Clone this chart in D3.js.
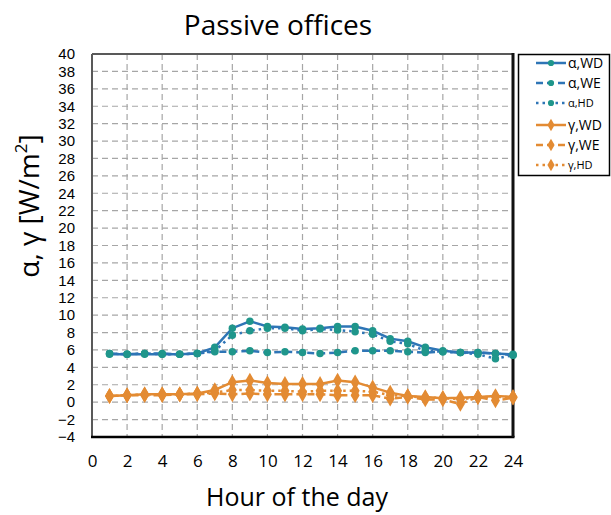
<!DOCTYPE html>
<html>
<head>
<meta charset="utf-8">
<script src="https://cdn.jsdelivr.net/npm/d3@7"></script>
<style>
  html, body { margin: 0; padding: 0; background: #fff; }
  svg { display: block; font-family: "Open Sans", "DejaVu Sans", sans-serif; }
</style>
</head>
<body>
<svg id="chart" width="611" height="515"></svg>
<script>
// Hourly gains in passive offices, hours 1..24
const hours = d3.range(1, 25);

const alphaWD = [5.5, 5.5, 5.5, 5.5, 5.5, 5.6, 6.3, 8.5, 9.3, 8.7, 8.6, 8.4, 8.5, 8.7, 8.7, 8.2, 7.3, 7.0, 6.3, 5.9, 5.7, 5.7, 5.6, 5.5];
const alphaWE = [5.6, 5.5, 5.6, 5.6, 5.5, 5.6, 5.8, 5.8, 5.9, 5.7, 5.8, 5.7, 5.6, 5.7, 5.9, 5.9, 5.9, 5.8, 5.7, 5.8, 5.7, 5.7, 5.6, 5.4];
const alphaHD = [5.6, 5.5, 5.6, 5.5, 5.5, 5.6, 5.9, 7.7, 8.2, 8.5, 8.5, 8.2, 8.4, 8.3, 8.1, 7.8, 7.0, 6.7, 5.9, 5.8, 5.7, 5.5, 5.0, 5.4];
const gammaWD = [0.7, 0.8, 0.9, 0.9, 0.9, 1.0, 1.4, 2.3, 2.5, 2.2, 2.1, 2.1, 2.1, 2.5, 2.3, 1.7, 1.1, 0.7, 0.6, 0.45, 0.5, 0.6, 0.7, 0.6];
const gammaWE = [0.7, 0.8, 0.8, 0.8, 0.9, 0.9, 1.0, 0.9, 1.0, 0.9, 0.9, 0.9, 0.9, 0.8, 0.8, 0.8, 0.4, 0.6, 0.3, 0.3, -0.2, 0.6, 0.2, 0.5];
const gammaHD = [0.7, 0.8, 0.9, 0.9, 0.9, 1.0, 1.1, 1.4, 1.4, 1.3, 1.3, 1.2, 1.3, 1.3, 1.3, 1.2, 0.8, 0.7, 0.5, 0.5, 0.3, 0.6, 0.6, 0.6];

const xTicks = d3.range(0, 25, 2);
const yTicks = d3.range(-4, 41, 2);

const BLUE = "#2e75b6", TEAL = "#1f968b", ORANGE = "#e38b33";

const series = [
  { name: "α,WD", values: alphaWD, line: BLUE,   marker: TEAL,   shape: "circle",  dash: null,    small: false },
  { name: "α,WE", values: alphaWE, line: BLUE,   marker: TEAL,   shape: "circle",  dash: "7,4",   small: false },
  { name: "α,HD", values: alphaHD, line: BLUE,   marker: TEAL,   shape: "circle",  dash: "2.5,4", small: true  },
  { name: "γ,WD", values: gammaWD, line: ORANGE, marker: ORANGE, shape: "diamond", dash: null,    small: false },
  { name: "γ,WE", values: gammaWE, line: ORANGE, marker: ORANGE, shape: "diamond", dash: "7,4",   small: false },
  { name: "γ,HD", values: gammaHD, line: ORANGE, marker: ORANGE, shape: "diamond", dash: "2.5,4", small: true  }
];

const svg = d3.select("#chart");
const plot = { left: 92, right: 513, top: 54, bottom: 437 };

const x = d3.scaleLinear().domain([0, 24]).range([plot.left, plot.right]);
const y = d3.scaleLinear().domain([-4, 40]).range([plot.bottom, plot.top]);

// Title
svg.append("text")
  .attr("x", 278).attr("y", 35)
  .attr("text-anchor", "middle")
  .attr("font-size", 28)
  .attr("fill", "#000")
  .text("Passive offices");

// Gridlines
const grid = svg.append("g");
grid.selectAll("line.v").data(xTicks.filter(d => d > 0 && d < 24)).join("line")
  .attr("x1", d => x(d)).attr("x2", d => x(d))
  .attr("y1", plot.top).attr("y2", plot.bottom)
  .attr("stroke", "#a6a6a6").attr("stroke-width", 1.2).attr("stroke-dasharray", "6,4");
grid.selectAll("line.h").data(yTicks.filter(d => d > -4 && d < 40)).join("line")
  .attr("x1", plot.left).attr("x2", plot.right)
  .attr("y1", d => y(d)).attr("y2", d => y(d))
  .attr("stroke", "#a6a6a6").attr("stroke-width", 1.2).attr("stroke-dasharray", "6,4");

// Frame
svg.append("line").attr("x1", plot.left).attr("x2", plot.right).attr("y1", plot.top).attr("y2", plot.top)
  .attr("stroke", "#595959").attr("stroke-width", 2);
svg.append("line").attr("x1", plot.left).attr("x2", plot.left).attr("y1", plot.top).attr("y2", plot.bottom)
  .attr("stroke", "#595959").attr("stroke-width", 2);
svg.append("line").attr("x1", plot.left - 1).attr("x2", plot.right + 1.5).attr("y1", plot.bottom).attr("y2", plot.bottom)
  .attr("stroke", "#000").attr("stroke-width", 2.5);
svg.append("line").attr("x1", plot.right).attr("x2", plot.right).attr("y1", plot.top - 1).attr("y2", plot.bottom)
  .attr("stroke", "#111").attr("stroke-width", 3);

// Axes (labels only)
const yAxis = svg.append("g")
  .attr("transform", `translate(${plot.left - 17},0)`)
  .call(d3.axisLeft(y).tickValues(yTicks).tickSize(0).tickPadding(0));
yAxis.select(".domain").remove();
yAxis.selectAll("text").attr("font-size", 15).attr("font-family", "Liberation Sans, Arial, sans-serif").attr("fill", "#000");

const xAxis = svg.append("g")
  .attr("transform", `translate(0,${plot.bottom + 18})`)
  .call(d3.axisBottom(x).tickValues(xTicks).tickSize(0).tickPadding(0));
xAxis.select(".domain").remove();
xAxis.selectAll("text").attr("font-size", 17).attr("font-family", "Open Sans, sans-serif").attr("fill", "#000");

// Axis titles
svg.append("text")
  .attr("x", 297).attr("y", 506)
  .attr("text-anchor", "middle")
  .attr("font-size", 25)
  .attr("fill", "#000")
  .text("Hour of the day");

const yTitle = svg.append("text")
  .attr("transform", "translate(39,206) rotate(-90)")
  .attr("text-anchor", "middle")
  .attr("font-size", 28)
  .attr("fill", "#000");
yTitle.append("tspan").text("α, γ [W/m");
yTitle.append("tspan").attr("font-size", 17).attr("dy", -12).text("2");
yTitle.append("tspan").attr("dy", 12).text("]");

// Series
const line = d3.line().x((d, i) => x(hours[i])).y(d => y(d));
const circleSym = d3.symbol().type(d3.symbolCircle);
const diamondSym = d3.symbol().type(d3.symbolDiamond);

series.forEach(s => {
  const g = svg.append("g");
  g.append("path")
    .attr("d", line(s.values))
    .attr("fill", "none")
    .attr("stroke", s.line)
    .attr("stroke-width", 2.5)
    .attr("stroke-dasharray", s.dash);
  g.selectAll("path.m").data(s.values).join("path")
    .attr("class", "m")
    .attr("transform", (d, i) => `translate(${x(hours[i])},${y(d)})`)
    .attr("d", s.shape === "circle" ? circleSym.size(44)() : diamondSym.size(70)())
    .attr("fill", s.marker);
});

// Legend
const legend = svg.append("g");
legend.append("rect")
  .attr("x", 518.5).attr("y", 54.5).attr("width", 91).attr("height", 121)
  .attr("fill", "#fff").attr("stroke", "#000").attr("stroke-width", 1.5);
const rowY = [63, 83, 103, 125, 145, 165];
series.forEach((s, i) => {
  const yy = rowY[i];
  legend.append("line")
    .attr("x1", 536).attr("x2", 566).attr("y1", yy).attr("y2", yy)
    .attr("stroke", s.line).attr("stroke-width", 2.5).attr("stroke-dasharray", s.dash);
  legend.append("path")
    .attr("transform", `translate(551,${yy})`)
    .attr("d", s.shape === "circle" ? circleSym.size(30)() : diamondSym.size(45)())
    .attr("fill", s.marker);
  legend.append("text")
    .attr("x", 568).attr("y", yy).attr("dy", "0.35em")
    .attr("font-size", s.small ? 11 : 14)
    .attr("fill", "#000")
    .text(s.name);
});
</script>
</body>
</html>
